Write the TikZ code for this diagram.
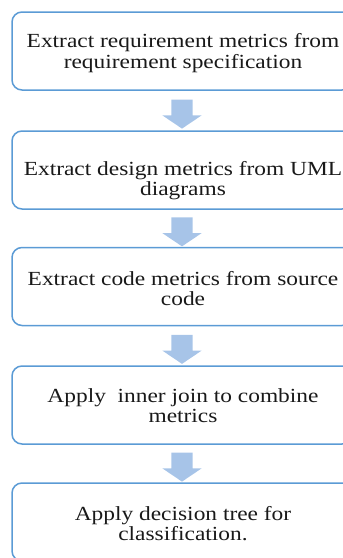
\documentclass[tikz,border=0pt]{standalone}
\usepackage{fontspec}
\setmainfont{Liberation Serif}[FakeStretch=1.17]
\usetikzlibrary{shapes.arrows,calc}
\definecolor{boxblue}{RGB}{91,155,213}
\definecolor{arrowblue}{RGB}{167,196,232}
\tikzset{
  stepbox/.style={draw=boxblue, line width=1.5pt, rounded corners=10pt,
    minimum width=340pt, minimum height=78pt, inner sep=0pt},
  steptext/.style={align=center, font=\fontsize{20}{20.5}\selectfont, text=black!90},
  flowarrow/.style={single arrow, fill=arrowblue, draw=none, rotate=-90,
    minimum height=29pt, minimum width=39pt, single arrow head extend=9pt,
    single arrow tip angle=112, inner xsep=0pt, inner ysep=10.5pt}
}
\begin{document}
\begin{tikzpicture}[x=1pt, y=-1pt]
  \useasboundingbox (0,0) rectangle (343,558);
  % the five steps
  \node[stepbox] (req) at (182,51) {};
  \node[stepbox] (des) at (182,170) {};
  \node[stepbox] (src) at (182,286.5) {};
  \node[stepbox] (join) at (182,405) {};
  \node[stepbox] (tree) at (182,522) {};
  \node[steptext] (reqtxt) at (183,53) {Extract requirement metrics from\\requirement specification};
  \node[steptext] (destxt) at (183,180.5) {Extract design metrics from UML\\diagrams};
  \node[steptext] (srctxt) at (183,288.5) {Extract code metrics from source\\code};
  \node[steptext] (jointxt) at (183,405.5) {Apply\ \ inner join to combine\\metrics};
  \node[steptext] (treetxt) at (183,523.5) {Apply decision tree for\\classification.};
  % block arrows between the steps
  \node[flowarrow] (a1) at ($(req.south)!0.5!(des.north)$) {};
  \node[flowarrow] (a2) at ($(des.south)!0.5!(src.north)$) {};
  \node[flowarrow] (a3) at ($(src.south)!0.5!(join.north)$) {};
  \node[flowarrow] (a4) at ($(join.south)!0.5!(tree.north)$) {};
\end{tikzpicture}
\end{document}
